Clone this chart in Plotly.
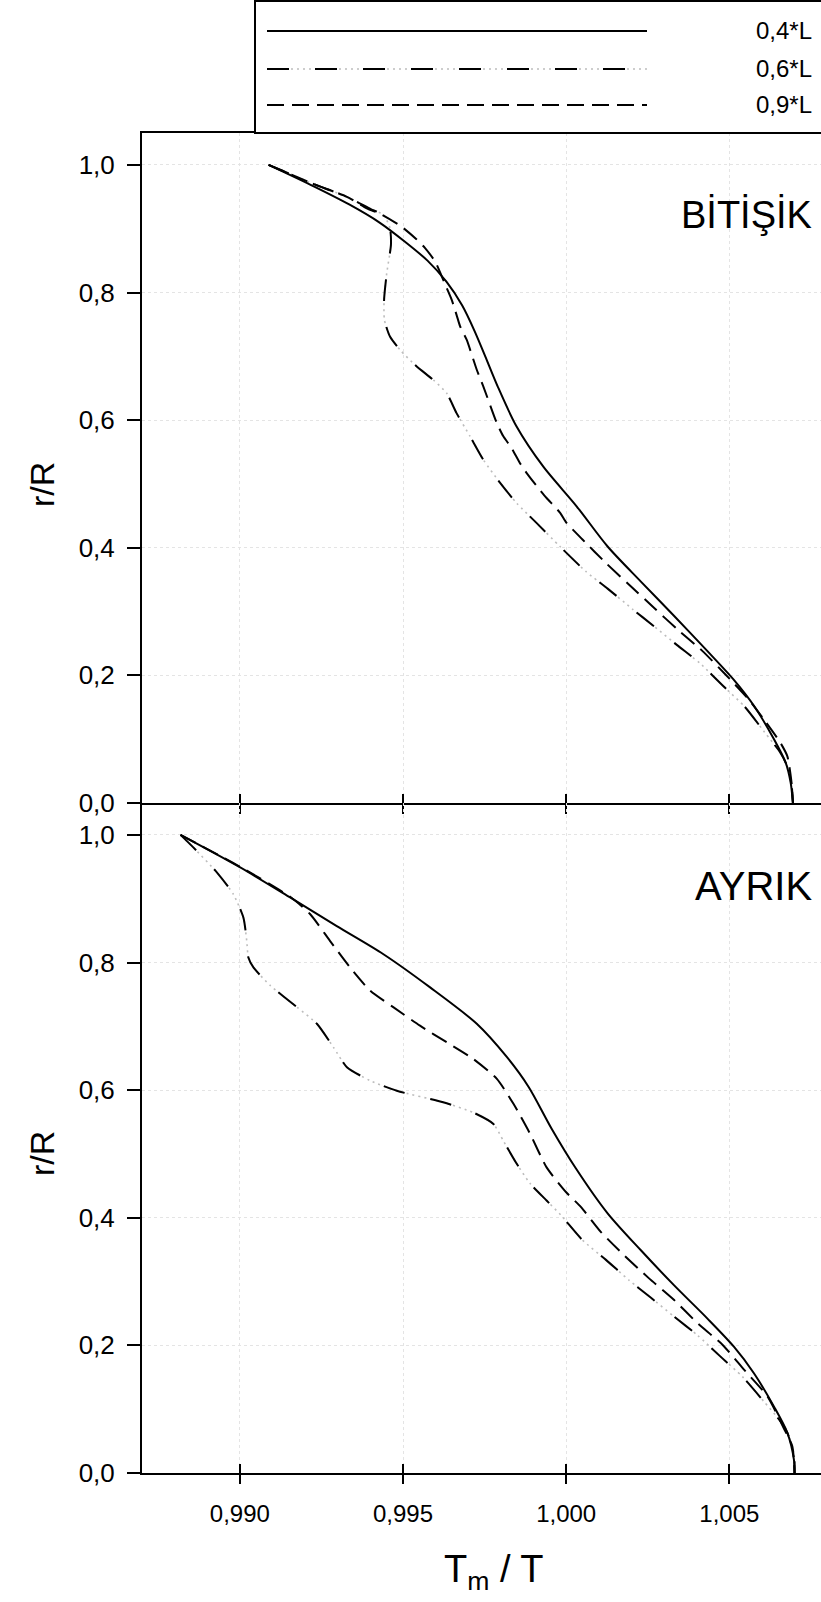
import plotly.graph_objects as go

# ---------------- data ----------------
x_ticks = [0.990, 0.995, 1.000, 1.005]
y_ticks = [0.0, 0.2, 0.4, 0.6, 0.8, 1.0]
series_names = ["0,4*L", "0,6*L", "0,9*L"]
panel_names = ["BİTİŞİK", "AYRIK"]

# BİTİŞİK (upper panel)
bit_04_x = [0.99088, 0.99228, 0.99335, 0.99427, 0.99505, 0.99575, 0.99633, 0.99681, 0.99719,
            0.99752, 0.99790, 0.99848, 0.99930, 1.00032, 1.00127, 1.00229, 1.00331, 1.00433,
            1.00514, 1.00576, 1.00637, 1.00673, 1.00688, 1.00695]
bit_04_y = [1.000, 0.966, 0.938, 0.910, 0.880, 0.850, 0.817, 0.780, 0.740,
            0.700, 0.653, 0.590, 0.527, 0.465, 0.402, 0.347, 0.293, 0.238,
            0.193, 0.152, 0.100, 0.063, 0.032, 0.000]

bit_06_x = [0.99088, 0.99134, 0.99231, 0.99328, 0.99404, 0.99440, 0.99460, 0.99463, 0.99450,
            0.99442, 0.99443, 0.99460, 0.99491, 0.99542, 0.99593, 0.99634, 0.99664, 0.99705,
            0.99746, 0.99797, 0.99848, 0.99909, 0.99981, 1.00060, 1.00127, 1.00203, 1.00269,
            1.00341, 1.00410, 1.00482, 1.00547, 1.00608, 1.00655, 1.00673, 1.00688, 1.00695]
bit_06_y = [1.000, 0.990, 0.969, 0.950, 0.930, 0.922, 0.901, 0.875, 0.830,
            0.789, 0.757, 0.731, 0.710, 0.684, 0.663, 0.642, 0.611, 0.575,
            0.538, 0.502, 0.470, 0.439, 0.402, 0.363, 0.336, 0.304, 0.277,
            0.247, 0.219, 0.183, 0.151, 0.111, 0.080, 0.063, 0.042, 0.000]

bit_09_x = [0.99088, 0.99134, 0.99231, 0.99328, 0.99389, 0.99435, 0.99496, 0.99542, 0.99567,
            0.99598, 0.99619, 0.99634, 0.99649, 0.99664, 0.99675, 0.99695, 0.99726, 0.99746,
            0.99787, 0.99807, 0.99833, 0.99858, 0.99879, 0.99914, 0.99940, 0.99981, 1.00001,
            1.00050, 1.00122, 1.00193, 1.00269, 1.00341, 1.00418, 1.00489, 1.00560, 1.00610,
            1.00657, 1.00678, 1.00690, 1.00695]
bit_09_y = [1.000, 0.990, 0.969, 0.950, 0.932, 0.922, 0.903, 0.883, 0.870,
            0.849, 0.825, 0.807, 0.789, 0.765, 0.747, 0.726, 0.679, 0.653,
            0.596, 0.575, 0.556, 0.533, 0.517, 0.494, 0.478, 0.455, 0.439,
            0.413, 0.376, 0.342, 0.306, 0.272, 0.238, 0.201, 0.162, 0.128,
            0.094, 0.073, 0.035, 0.000]

# AYRIK (lower panel)
ayr_04_x = [0.98818, 0.99001, 0.99154, 0.99297, 0.99440, 0.99583, 0.99726, 0.99818, 0.99885,
            0.99955, 1.00029, 1.00127, 1.00229, 1.00331, 1.00433, 1.00514, 1.00576, 1.00637,
            1.00678, 1.00698, 1.00700]
ayr_04_y = [1.000, 0.949, 0.902, 0.857, 0.813, 0.761, 0.704, 0.652, 0.605,
            0.540, 0.478, 0.407, 0.349, 0.294, 0.242, 0.198, 0.156, 0.104,
            0.063, 0.021, 0.000]

ayr_06_x = [0.98818, 0.98858, 0.98930, 0.98980, 0.99011, 0.99021, 0.99026, 0.99042, 0.99093,
            0.99175, 0.99236, 0.99287, 0.99328, 0.99399, 0.99481, 0.99623, 0.99715, 0.99777,
            0.99807, 0.99848, 0.99889, 0.99940, 0.99984, 1.00050, 1.00122, 1.00193, 1.00259,
            1.00331, 1.00402, 1.00474, 1.00540, 1.00606, 1.00657, 1.00678, 1.00698, 1.00700]
ayr_06_y = [1.000, 0.980, 0.941, 0.907, 0.870, 0.834, 0.808, 0.792, 0.764,
            0.730, 0.704, 0.667, 0.636, 0.615, 0.599, 0.581, 0.565, 0.547,
            0.521, 0.485, 0.454, 0.427, 0.404, 0.365, 0.334, 0.302, 0.275,
            0.245, 0.216, 0.182, 0.151, 0.112, 0.081, 0.063, 0.031, 0.000]

ayr_09_x = [0.98818, 0.99001, 0.99154, 0.99215, 0.99276, 0.99338, 0.99399, 0.99470, 0.99552,
            0.99634, 0.99715, 0.99787, 0.99838, 0.99889, 0.99940, 1.00000, 1.00045, 1.00106,
            1.00178, 1.00254, 1.00331, 1.00402, 1.00479, 1.00545, 1.00617, 1.00667, 1.00693,
            1.00700]
ayr_09_y = [1.000, 0.950, 0.903, 0.876, 0.834, 0.792, 0.756, 0.730, 0.701,
            0.675, 0.649, 0.618, 0.579, 0.532, 0.479, 0.440, 0.417, 0.378,
            0.341, 0.305, 0.271, 0.235, 0.201, 0.162, 0.120, 0.070, 0.042,
            0.000]

# ---------------- styling ----------------
W, H = 821, 1602
ML, MR, MT, MB = 142, 0, 133, 129
PLOT_W, PLOT_H = W - ML - MR, H - MT - MB
X_RANGE = [0.98700, 1.00781]
Y_RANGE = [0.0, 1.05]
FONT = "Liberation Sans, Arial, sans-serif"
BLACK = "#000000"
DOT_GREY = "#bdbdbd"
GRID = "#e4e4e4"

DASH_06 = "22px,26px"
DASH_09 = "17px,8px"


def px_x(px):
    return (px - ML) / PLOT_W


def px_y(py):
    return (H - MB - py) / PLOT_H


fig = go.Figure()


def add_panel(xa, ya, s04, s06, s09):
    common = dict(mode="lines", xaxis=xa, yaxis=ya, showlegend=False, hoverinfo="skip")
    # faint dotted under-layer of the dash-dot-dot curve
    fig.add_trace(go.Scatter(x=s06[0], y=s06[1], line=dict(color=DOT_GREY, width=1.6, dash="2px,4px",
                                                           shape="spline", smoothing=0.6), **common))
    fig.add_trace(go.Scatter(x=s06[0], y=s06[1], name=series_names[1],
                             line=dict(color=BLACK, width=2, dash=DASH_06, shape="spline", smoothing=0.6),
                             **common))
    fig.add_trace(go.Scatter(x=s09[0], y=s09[1], name=series_names[2],
                             line=dict(color=BLACK, width=2, dash=DASH_09, shape="spline", smoothing=0.6),
                             **common))
    fig.add_trace(go.Scatter(x=s04[0], y=s04[1], name=series_names[0],
                             line=dict(color=BLACK, width=2, shape="spline", smoothing=0.8), **common))


add_panel("x", "y", (bit_04_x, bit_04_y), (bit_06_x, bit_06_y), (bit_09_x, bit_09_y))
add_panel("x2", "y2", (ayr_04_x, ayr_04_y), (ayr_06_x, ayr_06_y), (ayr_09_x, ayr_09_y))

# empty traces so the overlay axes (inward tick marks) are rendered
fig.add_trace(go.Scatter(x=[None], y=[None], xaxis="x3", yaxis="y", showlegend=False, hoverinfo="skip"))
fig.add_trace(go.Scatter(x=[None], y=[None], xaxis="x4", yaxis="y2", showlegend=False, hoverinfo="skip"))

x_common = dict(range=X_RANGE, tickmode="array", tickvals=x_ticks, tickformat=".3f",
                ticks="outside", ticklen=9, tickwidth=2, tickcolor=BLACK,
                showline=True, linewidth=2, linecolor=BLACK, zeroline=False,
                showgrid=True, gridcolor=GRID, griddash="dot", gridwidth=1,
                tickfont=dict(family=FONT, size=24, color=BLACK))
y_common = dict(range=Y_RANGE, tickmode="array", tickvals=y_ticks, tickformat=".1f",
                ticks="outside", ticklen=13, tickwidth=2, tickcolor=BLACK,
                showline=True, linewidth=2, linecolor=BLACK, zeroline=False,
                showgrid=True, gridcolor=GRID, griddash="dot", gridwidth=1,
                tickfont=dict(family=FONT, size=26, color=BLACK), ticklabelstandoff=7)
overlay_x = dict(range=X_RANGE, tickmode="array", tickvals=x_ticks, ticks="inside", ticklen=9,
                 tickwidth=2, tickcolor=BLACK, showticklabels=False, showgrid=False,
                 showline=False, zeroline=False)

fig.update_layout(
    width=W, height=H,
    margin=dict(l=ML, r=MR, t=MT, b=MB, pad=0),
    paper_bgcolor="white", plot_bgcolor="white",
    separators=",.",
    font=dict(family=FONT, color=BLACK),
    xaxis=dict(domain=[0, 1], anchor="y", showticklabels=False, mirror=True, **x_common),
    yaxis=dict(domain=[0.5, 1], anchor="x", **y_common),
    xaxis2=dict(domain=[0, 1], anchor="y2", ticklabelstandoff=9, **x_common),
    yaxis2=dict(domain=[0, 0.5], anchor="x2", **y_common),
    xaxis3=dict(overlaying="x", anchor="y", **overlay_x),
    xaxis4=dict(overlaying="x2", anchor="y2", **overlay_x),
)

# legend box with long line samples
shapes = [dict(type="rect", xref="paper", yref="paper", x0=px_x(255), x1=px_x(830),
               y0=px_y(133), y1=px_y(1), line=dict(color=BLACK, width=2), fillcolor="white",
               layer="above")]
rows = [31, 69, 105]
styles = [None, DASH_06, DASH_09]
for row, dash in zip(rows, styles):
    if dash == DASH_06:
        shapes.append(dict(type="line", xref="paper", yref="paper", x0=px_x(267), x1=px_x(647),
                           y0=px_y(row), y1=px_y(row),
                           line=dict(color=DOT_GREY, width=1.6, dash="2px,4px")))
    line = dict(color=BLACK, width=2)
    if dash:
        line["dash"] = dash
    shapes.append(dict(type="line", xref="paper", yref="paper", x0=px_x(267), x1=px_x(647),
                       y0=px_y(row), y1=px_y(row), line=line))
fig.update_layout(shapes=shapes)

annotations = []
for row, name in zip(rows, series_names):
    annotations.append(dict(text=name, xref="paper", yref="paper", x=px_x(814), y=px_y(row),
                            xanchor="right", yanchor="middle", showarrow=False,
                            font=dict(family=FONT, size=24, color=BLACK)))
annotations.append(dict(text=panel_names[0], xref="paper", yref="paper", x=px_x(814), y=px_y(215),
                        xanchor="right", yanchor="middle", showarrow=False,
                        font=dict(family=FONT, size=38, color=BLACK)))
annotations.append(dict(text=panel_names[1], xref="paper", yref="paper", x=px_x(814), y=px_y(886),
                        xanchor="right", yanchor="middle", showarrow=False,
                        font=dict(family=FONT, size=40, color=BLACK)))
for yc in (485, 1154):
    annotations.append(dict(text="r/R", xref="paper", yref="paper", x=px_x(42), y=px_y(yc),
                            xanchor="center", yanchor="middle", textangle=-90, showarrow=False,
                            font=dict(family=FONT, size=34, color=BLACK)))
annotations.append(dict(text="T<sub>m</sub> / T", xref="paper", yref="paper", x=px_x(494), y=px_y(1572),
                        xanchor="center", yanchor="middle", showarrow=False,
                        font=dict(family=FONT, size=38, color=BLACK)))
fig.update_layout(annotations=annotations)

fig.write_html("out.html")
